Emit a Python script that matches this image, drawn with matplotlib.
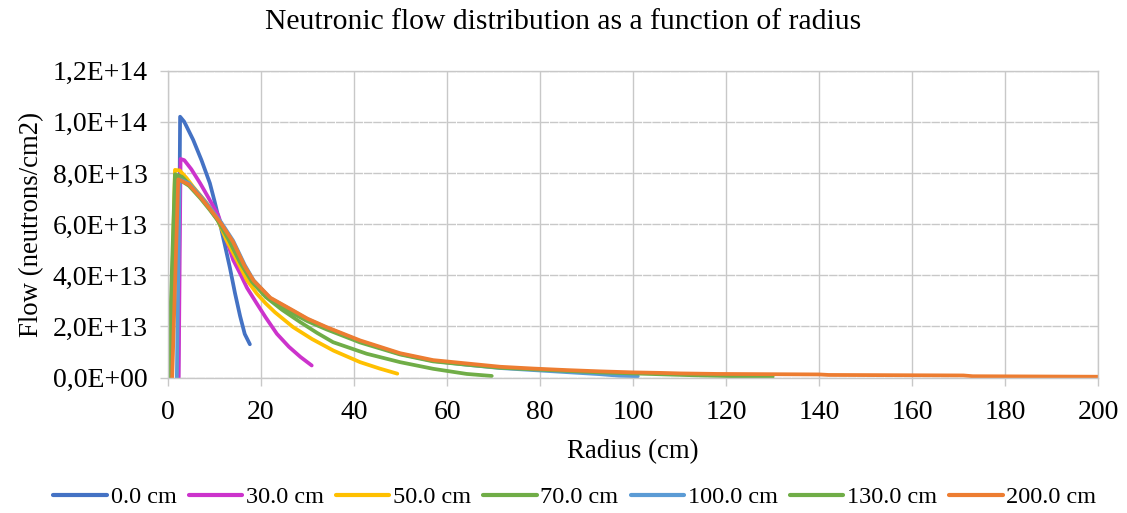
import matplotlib
matplotlib.use("Agg")
import matplotlib.pyplot as plt

plt.rcParams['font.family'] = ['Liberation Serif', 'DejaVu Serif']

# Data (radius in cm, flow in units of 1E13 neutrons/cm2)
r_0 = [2.2, 2.6, 3.5, 5.4, 7.2, 9.0, 10.0, 11.2, 12.2, 13.3, 14.4, 15.5, 16.5, 17.6]
f_0 = [0.0, 10.2, 10.0, 9.3, 8.5, 7.6, 6.9, 6.0, 5.2, 4.3, 3.3, 2.4, 1.7, 1.3]

r_30 = [2.3, 2.7, 3.5, 5.0, 6.9, 8.8, 10.8, 12.6, 14.0, 15.5, 17.0, 19.1, 21.0, 23.4, 26.0, 28.5, 30.9]
f_30 = [0.0, 8.55, 8.5, 8.15, 7.6, 7.0, 6.35, 5.37, 4.6, 4.07, 3.5, 2.89, 2.35, 1.71, 1.2, 0.8, 0.47]

r_50 = [0.4, 1.5, 2.5, 4.0, 5.4, 8.0, 10.4, 12.5, 14.8, 17.0, 19.1, 21.0, 23.0, 26.9, 31.0, 35.6, 41.3, 45.5, 49.3]
f_50 = [0.0, 8.12, 8.1, 7.8, 7.46, 6.9, 6.29, 5.4, 4.59, 3.8, 3.28, 2.9, 2.55, 1.97, 1.5, 1.05, 0.6, 0.35, 0.15]

r_70 = [0.1, 1.5, 3.0, 5.5, 8.0, 10.5, 13.0, 15.5, 18.0, 21.0, 24.5, 28.4, 32.0, 35.5, 42.7, 49.9, 57.0, 64.2, 69.6]
f_70 = [0.0, 7.95, 7.85, 7.4, 6.85, 6.2, 5.4, 4.5, 3.75, 3.15, 2.65, 2.17, 1.75, 1.38, 0.93, 0.6, 0.34, 0.14, 0.06]

r_100 = [1.9, 2.5, 4.5, 7.0, 9.0, 11.5, 14.0, 16.5, 18.4, 22.0, 26.9, 30.0, 34.1, 41.3, 49.9, 57.0, 64.2, 71.4, 78.5, 85.7, 92.9, 97.0, 101.0]
f_100 = [0.0, 7.75, 7.6, 7.1, 6.65, 6.05, 5.35, 4.4, 3.8, 3.1, 2.6, 2.28, 1.95, 1.42, 0.92, 0.65, 0.5, 0.37, 0.29, 0.21, 0.13, 0.07, 0.05]

r_130 = [0.5, 1.9, 4.5, 7.0, 9.0, 11.5, 14.0, 16.5, 18.4, 22.0, 26.9, 30.0, 34.1, 41.3, 49.9, 57.0, 64.2, 71.4, 78.5, 85.7, 92.9, 100.0, 107.0, 114.4, 122.0, 130.0]
f_130 = [0.0, 7.8, 7.5, 7.0, 6.55, 5.95, 5.2, 4.3, 3.72, 3.05, 2.5, 2.2, 1.88, 1.37, 0.9, 0.63, 0.5, 0.38, 0.32, 0.26, 0.2, 0.16, 0.12, 0.08, 0.05, 0.03]

r_200 = [0.9, 2.2, 4.5, 7.0, 9.0, 11.5, 14.0, 16.5, 18.4, 22.0, 26.9, 30.0, 34.1, 41.3, 49.9, 57.0, 64.2, 71.4, 78.5, 85.7, 92.9, 100.0, 106.0, 110.0, 118.0, 140.0, 142.0, 171.0, 173.0, 200.0]
f_200 = [0.0, 7.75, 7.55, 7.05, 6.6, 6.0, 5.3, 4.35, 3.79, 3.12, 2.62, 2.3, 1.97, 1.45, 0.95, 0.68, 0.55, 0.42, 0.35, 0.29, 0.24, 0.2, 0.18, 0.16, 0.14, 0.12, 0.1, 0.08, 0.05, 0.03]

series_labels = ["0.0 cm", "30.0 cm", "50.0 cm", "70.0 cm", "100.0 cm", "130.0 cm", "200.0 cm"]
series_r = [r_0, r_30, r_50, r_70, r_100, r_130, r_200]
series_f = [f_0, f_30, f_50, f_70, f_100, f_130, f_200]
colors = ["#4472C4", "#CC33CC", "#FFC000", "#70AD47", "#5B9BD5", "#70AD47", "#ED7D31"]

x_ticks = [0, 20, 40, 60, 80, 100, 120, 140, 160, 180, 200]
y_ticks = [0, 2, 4, 6, 8, 10, 12]
y_tick_labels = ["0,0E+00", "2,0E+13", "4,0E+13", "6,0E+13", "8,0E+13", "1,0E+14", "1,2E+14"]

fig = plt.figure(figsize=(11.27, 5.13), dpi=100)
ax = fig.add_axes([168 / 1127, 1 - 377.5 / 513, (1098.3 - 168) / 1127, (377.5 - 70.7) / 513])

for r, f, c, lab in zip(series_r, series_f, colors, series_labels):
    ax.plot(r, f, color=c, lw=2.7, label=lab, solid_capstyle='round', solid_joinstyle='round')

ax.set_xlim(0, 200)
ax.set_ylim(0, 12)
ax.set_xticks(x_ticks)
ax.set_yticks(y_ticks)
ax.set_yticklabels(y_tick_labels)

gc = "#C8C8C8"
ax.xaxis.grid(True, color=gc, lw=1.0, ls='-')
ax.yaxis.grid(True, color=gc, lw=1.0, ls=(0, (6, 0.7)))
ax.set_axisbelow(True)
for s in ax.spines.values():
    s.set_color(gc)
    s.set_linewidth(1.0)
ax.tick_params(axis='both', which='both', color=gc, length=6, width=1.0, labelsize=20)
ax.tick_params(axis='x', pad=10)
ax.tick_params(axis='y', pad=8.5)

ax.set_xlabel("Radius (cm)", fontsize=19.3, labelpad=10)
ax.set_ylabel("Flow (neutrons/cm2)", fontsize=19.3, labelpad=6)
fig.text(0.5, 1 - 22 / 513, "Neutronic flow distribution as a function of radius",
         fontsize=21.3, ha='center', va='center')

leg = fig.legend(loc='center', bbox_to_anchor=(575 / 1127, 1 - 497 / 513), ncol=7, frameon=False,
                 fontsize=17.5, handlelength=2.2, handletextpad=0.15, columnspacing=0.5)
for h in leg.get_lines():
    h.set_linewidth(3)

fig.savefig("out.png", dpi=100)
